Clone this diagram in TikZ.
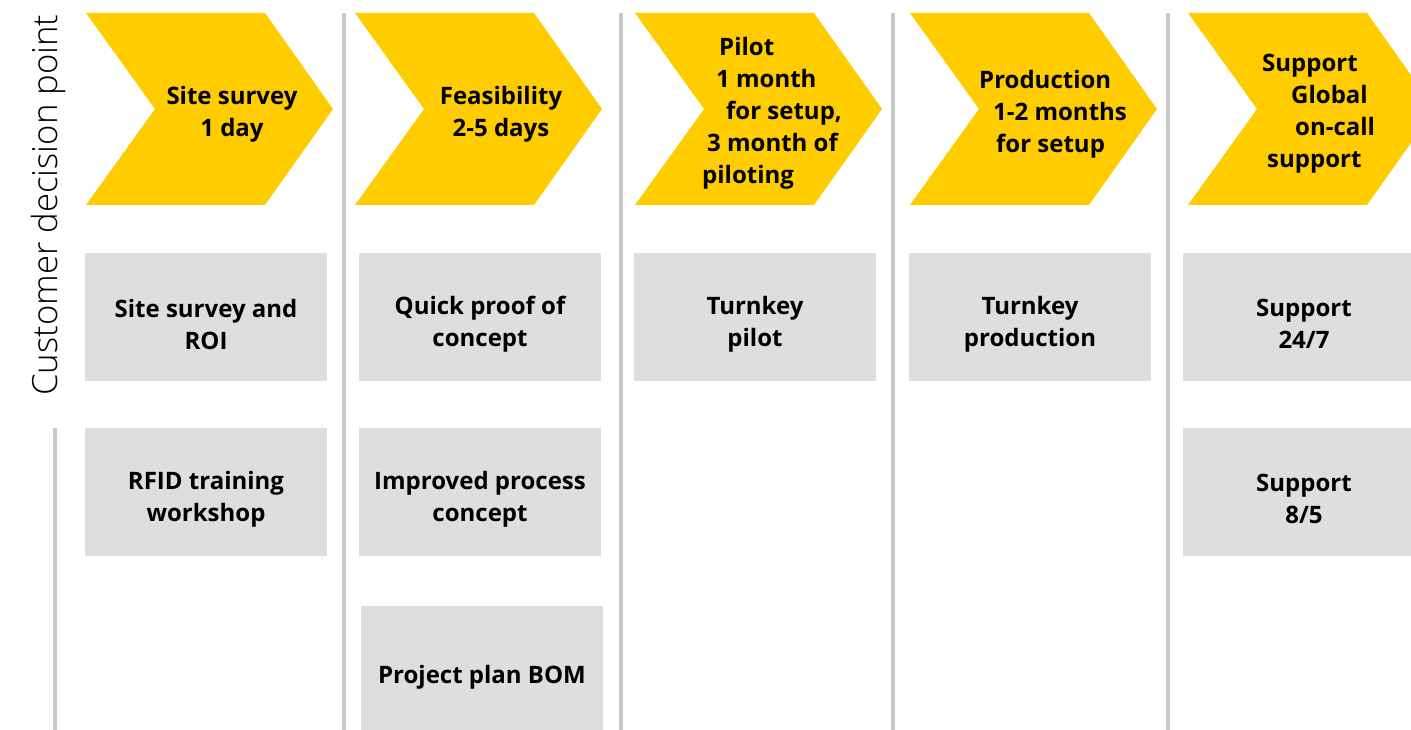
\documentclass[tikz,border=0pt]{standalone}
\usepackage{fontspec}
\setmainfont{Open Sans}
\newfontfamily\lightfont{Open Sans}[UprightFont=* Light]
\definecolor{phaseyellow}{HTML}{FFCC00}
\definecolor{offergray}{HTML}{DEDEDE}
\definecolor{linegray}{HTML}{C8C8C8}
\tikzset{
  phase/.style={fill=phaseyellow},
  phasetext/.style={inner sep=0, font=\bfseries\fontsize{24}{32}\selectfont},
  offer/.style={fill=offergray, minimum width=242, minimum height=128, inner sep=0},
  offertext/.style={yshift=-7pt, align=center, inner sep=0, font=\bfseries\fontsize{24}{32}\selectfont},
  sep/.style={draw=linegray, line width=4}
}
\begin{document}
\begin{tikzpicture}[x=1pt,y=-1pt]
        \clip (0,0) rectangle (1411,730);
        \fill[white] (0,0) rectangle (1411,730);

        % Chevrons
        \fill[phase] (86,13) -- (265,13) -- (333,109) -- (265,205) -- (86,205) -- (155,109) -- cycle;
        \fill[phase] (355,13) -- (534,13) -- (602,109) -- (534,205) -- (355,205) -- (424,109) -- cycle;
        \fill[phase] (635,13) -- (814,13) -- (882,109) -- (814,205) -- (635,205) -- (704,109) -- cycle;
        \fill[phase] (910,13) -- (1089,13) -- (1157,109) -- (1089,205) -- (910,205) -- (979,109) -- cycle;
        \fill[phase] (1188,13) -- (1367,13) -- (1435,109) -- (1367,205) -- (1188,205) -- (1257,109) -- cycle;

        \node[phasetext, align=center] (survey) at (232,114.5) {Site survey\\1 day};
        \node[phasetext, align=center] (feasibility) at (501,114.5) {Feasibility\\2-5 days};
        \node[phasetext, align=left, anchor=west] (pilot) at (702,113.5)
          {\hspace{17pt}Pilot\\\hspace{14pt}1 month\\\hspace{24pt}for setup,\\\hspace{5pt}3 month of\\piloting};
        \node[phasetext, align=left, anchor=west] (production) at (979,114)
          {Production\\\hspace{14pt}1-2 months\\\hspace{17pt}for setup};
        \node[phasetext, align=left, anchor=west] (support) at (1262,113.5)
          {Support\\\hspace{29pt}Global\\\hspace{33pt}on-call\\\hspace{5pt}support};

        % Separators
        \draw[sep] (55,428) -- (55,730);
        \draw[sep] (344,13) -- (344,730);
        \draw[sep] (621,13) -- (621,730);
        \draw[sep] (893,13) -- (893,730);
        \draw[sep] (1168,13) -- (1168,730);

        % Offers
        \node[offer, label={[offertext]center:Site survey and\\ROI}] (surveyroi) at (206,317) {};
        \node[offer, label={[offertext]center:RFID training\\workshop}] (training) at (206,492) {};
        \node[offer, label={[offertext]center:Quick proof of\\concept}] (proof) at (480,317) {};
        \node[offer, label={[offertext]center:Improved process\\concept}] (process) at (480,492) {};
        \node[offer, label={[offertext]center:Project plan BOM}] (bom) at (482,670) {};
        \node[offer, label={[offertext]center:Turnkey\\pilot}] (turnkeypilot) at (755,317) {};
        \node[offer, label={[offertext]center:Turnkey\\production}] (turnkeyprod) at (1030,317) {};
        \node[offer, label={[offertext]center:Support\\24/7}] (support247) at (1304,317) {};
        \node[offer, label={[offertext]center:Support\\8/5}] (support85) at (1304,492) {};

        \node[rotate=90, anchor=base, font=\lightfont\fontsize{34.7}{40}\selectfont] (decision) at (57,205)
          {Customer decision point};
\end{tikzpicture}
\end{document}
